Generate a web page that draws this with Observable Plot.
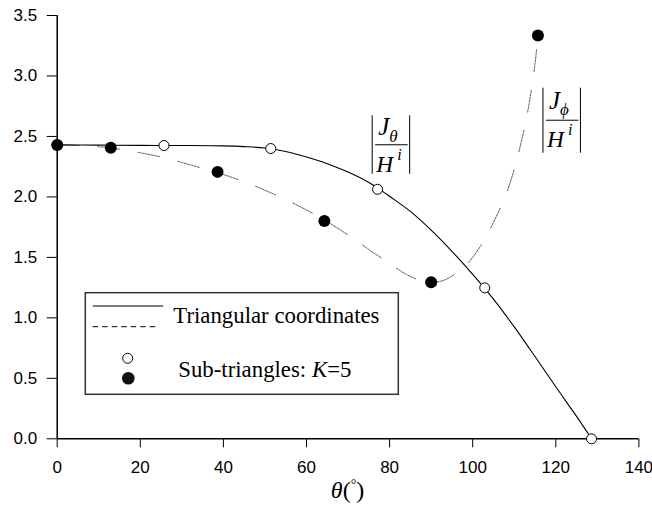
<!DOCTYPE html>
<html><head><meta charset="utf-8">
<script src="https://cdn.jsdelivr.net/npm/d3@7"></script>
<script src="https://cdn.jsdelivr.net/npm/@observablehq/plot@0.6"></script>
<style>html,body{margin:0;padding:0;background:#fff} svg{display:block}</style>
</head><body><div id="chart"></div>
<script>
// Triangular coordinates, |J_theta / H^i| (solid line)
const solidTheta = [0, 10, 20, 30, 40, 45, 50, 55, 60, 65, 70, 75, 77.1, 80, 85, 90, 95, 100, 105, 110, 115, 120, 125, 128.6];
const solidValue = [2.43, 2.428, 2.426, 2.425, 2.422, 2.416, 2.404, 2.375, 2.33, 2.275, 2.205, 2.12, 2.075, 2.005, 1.88, 1.725, 1.55, 1.36, 1.155, 0.925, 0.68, 0.43, 0.185, 0.0];
// Triangular coordinates, |J_phi / H^i| (dashed line)
const dashedTheta = [0, 5, 10, 15, 20, 25, 30, 35, 40, 45, 50, 55, 60, 65, 70, 75, 80, 84, 87, 90, 93, 96, 99, 102, 105, 108, 110, 112, 113, 114, 115, 115.7];
const dashedValue = [2.43, 2.425, 2.415, 2.395, 2.365, 2.33, 2.285, 2.235, 2.185, 2.125, 2.055, 1.978, 1.892, 1.795, 1.685, 1.565, 1.45, 1.36, 1.315, 1.295, 1.31, 1.37, 1.46, 1.6, 1.79, 2.02, 2.23, 2.5, 2.66, 2.86, 3.1, 3.335];
// Sub-triangles K=5 (open circles: J_theta, filled: J_phi)
const openTheta = [0, 25.7, 51.4, 77.1, 102.9, 128.6];
const openValue = [2.43, 2.425, 2.40, 2.063, 1.248, 0.0];
const filledTheta = [0, 12.9, 38.6, 64.3, 90, 115.7];
const filledValue = [2.43, 2.407, 2.207, 1.80, 1.294, 3.335];
// axes
const xTicks = [0, 20, 40, 60, 80, 100, 120, 140];
const yTicks = [0, 0.5, 1.0, 1.5, 2.0, 2.5, 3.0, 3.5];
// annotations: subscript symbol and anchor (data coords of fraction bar centre)
const annoSub = ["θ", "ϕ"];
const annoTheta = [80.5, 121.6];
const annoValue = [2.427, 2.63];
const legendLabels = ["Triangular coordinates", "Sub-triangles: "];

const serif = "'Liberation Serif', 'Times New Roman', serif";
const toRows = (xs, ys) => xs.map((x, i) => ({theta: x, value: ys[i]}));
const solid = toRows(solidTheta, solidValue);
const dashed = toRows(dashedTheta, dashedValue);
const open = toRows(openTheta, openValue);
const filled = toRows(filledTheta, filledValue);
const annos = annoSub.map((s, i) => ({sub: s, theta: annoTheta[i], value: annoValue[i]}));

function txt(parent, x, y, size, italic) {
  return parent.append("text").attr("x", x).attr("y", y)
    .style("font-family", serif).style("font-size", size + "px")
    .style("font-style", italic ? "italic" : "normal").style("text-anchor", "start").attr("fill", "#000");
}

function overlay(index, scales, values, dimensions) {
  const g = d3.create("svg:g").style("text-anchor", "start");
  // fraction annotations
  annos.forEach((a, k) => {
    const C = scales.x(a.theta), L = scales.y(a.value);
    const up = k === 0 ? 29.5 : 32.5, down = k === 0 ? 29 : 32.5;
    g.append("line").attr("x1", C - 16).attr("x2", C + 16.5).attr("y1", L).attr("y2", L).attr("stroke", "#000").attr("stroke-width", 1);
    g.append("line").attr("x1", C - 19).attr("x2", C - 19).attr("y1", L - up).attr("y2", L + down).attr("stroke", "#000").attr("stroke-width", 1);
    g.append("line").attr("x1", C + 18.5).attr("x2", C + 18.5).attr("y1", L - up).attr("y2", L + down).attr("stroke", "#000").attr("stroke-width", 1);
    txt(g, C - 13, L - (k === 0 ? 9.5 : 11.5), 25, true).text("J");
    txt(g, C - 2, L - (k === 0 ? 3 : 5), 17, true).text(a.sub);
    txt(g, C - 15, L + 27, 23.5, true).text("H");
    txt(g, C + 6, L + 15, 16, true).text("i");
  });
  // legend box
  const lg = g.append("g");
  lg.append("rect").attr("x", 85.3).attr("y", 292.7).attr("width", 313).attr("height", 101.6).attr("fill", "none").attr("stroke", "#333").attr("stroke-width", 1.5);
  lg.append("line").attr("x1", 92.7).attr("x2", 163.3).attr("y1", 306).attr("y2", 306).attr("stroke", "#000").attr("stroke-width", 1.2);
  lg.append("line").attr("x1", 92.7).attr("x2", 157).attr("y1", 326.7).attr("y2", 326.7).attr("stroke", "#000").attr("stroke-width", 1).attr("stroke-dasharray", "5.5,4");
  lg.append("circle").attr("cx", 127.7).attr("cy", 358.3).attr("r", 5).attr("fill", "#fff").attr("stroke", "#000").attr("stroke-width", 1);
  lg.append("circle").attr("cx", 128.3).attr("cy", 378.3).attr("r", 6.3).attr("fill", "#111");
  txt(lg, 173.3, 322.7, 22.8, false).text(legendLabels[0]);
  const t2 = txt(lg, 178.3, 376.7, 22.8, false);
  t2.append("tspan").text(legendLabels[1]);
  t2.append("tspan").style("font-style", "italic").text("K");
  t2.append("tspan").text("=5");
  // x-axis label
  const cx = (dimensions.marginLeft + dimensions.width - dimensions.marginRight) / 2;
  const xl = txt(g, cx, 498, 24, false).style("text-anchor", "middle");
  xl.append("tspan").style("font-style", "italic").text("θ");
  xl.append("tspan").text("(");
  xl.append("tspan").style("font-size", "14px").attr("dy", -9).text("°");
  xl.append("tspan").attr("dy", 9).text(")");
  return g.node();
}

const chart = Plot.plot({
  width: 652,
  height: 505,
  marginLeft: 56.7,
  marginRight: 13.6,
  marginTop: 15,
  marginBottom: 66.7,
  style: {fontFamily: "'Liberation Sans', Arial, sans-serif", fontSize: "17px", color: "#000", background: "#fff"},
  x: {domain: [0, 140], ticks: xTicks, tickSize: 9, tickPadding: 13, label: null},
  y: {domain: [0, 3.5], ticks: yTicks, tickFormat: d3.format(".1f"), tickSize: 10, tickPadding: 10, label: null},
  marks: [
    Plot.ruleX([0], {stroke: "#000", strokeWidth: 1.5}),
    Plot.ruleY([0], {stroke: "#000", strokeWidth: 1.5}),
    Plot.line(dashed, {x: "theta", y: "value", stroke: "#444", strokeWidth: 0.9, curve: "catmull-rom", strokeDasharray: "2,1.3,2,1.3,2,1.3,2,1.3,2,1.3,2,1.3,2,19"}),
    Plot.line(solid, {x: "theta", y: "value", stroke: "#000", strokeWidth: 1.1, curve: "catmull-rom"}),
    Plot.dot(open, {x: "theta", y: "value", r: 5, fill: "#fff", stroke: "#000", strokeWidth: 1}),
    Plot.dot(filled, {x: "theta", y: "value", r: 6, fill: "#000", stroke: "none"}),
    overlay
  ]
});
document.getElementById("chart").appendChild(chart);
</script>
</body></html>
